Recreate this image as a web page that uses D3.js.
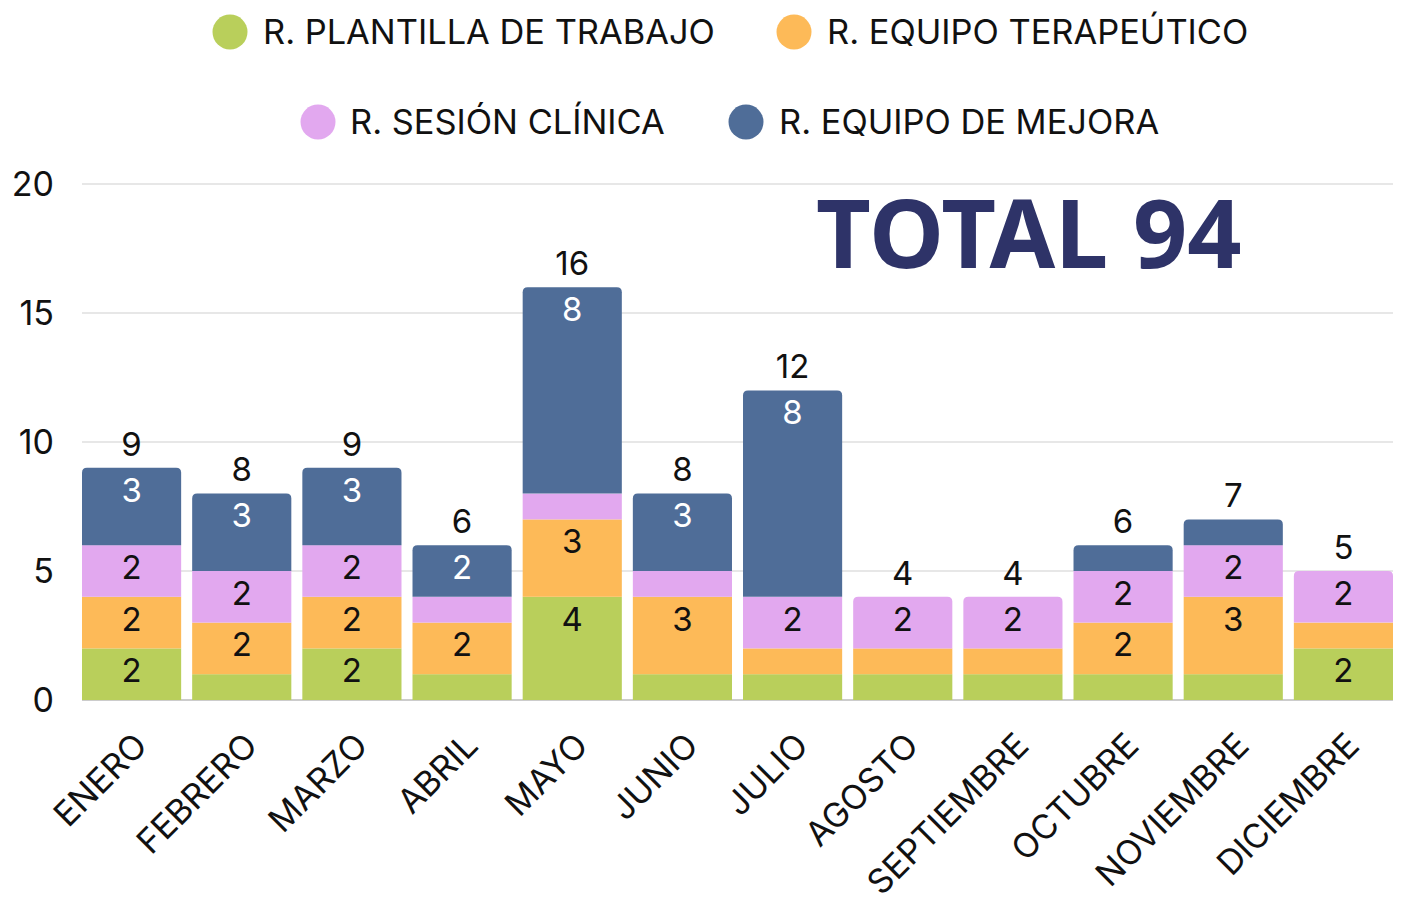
<!DOCTYPE html>
<html>
<head>
<meta charset="utf-8">
<script src="https://cdn.jsdelivr.net/npm/d3@7"></script>
<style>
  html, body { margin: 0; padding: 0; background: #fff; }
  svg { display: block; font-family: Inter, "Noto Sans", sans-serif; }
</style>
</head>
<body>
<svg id="chart" width="1407" height="911"></svg>
<script>
const months = ["ENERO","FEBRERO","MARZO","ABRIL","MAYO","JUNIO","JULIO","AGOSTO","SEPTIEMBRE","OCTUBRE","NOVIEMBRE","DICIEMBRE"];
const seriesNames = ["R. PLANTILLA DE TRABAJO","R. EQUIPO TERAPEÚTICO","R. SESIÓN CLÍNICA","R. EQUIPO DE MEJORA"];
const plantilla = [2,1,2,1,4,1,1,1,1,1,1,2];
const terapeutico = [2,2,2,2,3,3,1,1,1,2,3,1];
const sesion = [2,2,2,1,1,1,2,2,2,2,2,2];
const mejora = [3,3,3,2,8,3,8,0,0,1,1,0];
const yTicks = [0,5,10,15,20];
const totalLabel = "TOTAL 94";
const colors = ["#b9cf5b","#fdba58","#e2a8ef","#4f6d98"];

const svg = d3.select("#chart");
const x = d3.scaleBand().domain(months).range([82, 1393]).paddingInner(0.1).paddingOuter(0);
const y = d3.scaleLinear().domain([0, 20]).range([700, 184]);

// grid
svg.append("g").selectAll("line").data(yTicks).join("line")
  .attr("x1", 82).attr("x2", 1393)
  .attr("y1", d => y(d)).attr("y2", d => y(d))
  .attr("stroke", d => d === 0 ? "#999" : "#cfcfcf").attr("stroke-width", 1);

// y axis labels
svg.append("g").selectAll("text").data(yTicks).join("text")
  .attr("x", 54).attr("y", d => y(d)).attr("dy", "0.36em")
  .attr("text-anchor", "end").attr("font-size", 34).attr("fill", "#111")
  .text(d => d);

const table = months.map((m, i) => ({ month: m, s0: plantilla[i], s1: terapeutico[i], s2: sesion[i], s3: mejora[i] }));
const stack = d3.stack().keys(["s0","s1","s2","s3"]);
const stacked = stack(table);

const bw = x.bandwidth();
const r = 5;
function topIndex(i) {
  let t = -1;
  for (let k = 0; k < 4; k++) if (stacked[k][i][1] - stacked[k][i][0] > 0) t = k;
  return t;
}

stacked.forEach((layer, k) => {
  const g = svg.append("g");
  layer.forEach((d, i) => {
    const v = d[1] - d[0];
    if (v <= 0) return;
    const x0 = x(months[i]), x1 = x0 + bw;
    const yt = y(d[1]), yb = y(d[0]);
    if (topIndex(i) === k) {
      const p = d3.path();
      p.moveTo(x0, yb);
      p.lineTo(x0, yt + r);
      p.quadraticCurveTo(x0, yt, x0 + r, yt);
      p.lineTo(x1 - r, yt);
      p.quadraticCurveTo(x1, yt, x1, yt + r);
      p.lineTo(x1, yb);
      p.closePath();
      g.append("path").attr("d", p.toString()).attr("fill", colors[k]);
    } else {
      g.append("rect").attr("x", x0).attr("y", yt).attr("width", bw).attr("height", yb - yt).attr("fill", colors[k]);
    }
  });
});

// inner labels
stacked.forEach((layer, k) => {
  svg.append("g").selectAll("text").data(layer.map((d, i) => ({ d, i })).filter(o => o.d[1] - o.d[0] >= 2)).join("text")
    .attr("x", o => x(months[o.i]) + bw / 2)
    .attr("y", o => y(o.d[1]) + 22).attr("dy", "0.36em")
    .attr("text-anchor", "middle").attr("font-size", 33)
    .attr("fill", k === 3 ? "#fff" : "#111")
    .text(o => o.d[1] - o.d[0]);
});

// totals
const totals = months.map((m, i) => plantilla[i] + terapeutico[i] + sesion[i] + mejora[i]);
svg.append("g").selectAll("text").data(totals).join("text")
  .attr("x", (d, i) => x(months[i]) + bw / 2)
  .attr("y", d => y(d) - 24).attr("dy", "0.36em")
  .attr("text-anchor", "middle").attr("font-size", 33).attr("fill", "#111")
  .text(d => d);

// x labels
svg.append("g").selectAll("text").data(months).join("text")
  .attr("transform", d => `translate(${x(d) + bw / 2 + 9},${739}) rotate(-45)`)
  .attr("text-anchor", "end").attr("dy", "0.36em")
  .attr("font-size", 34).attr("fill", "#111")
  .text(d => d);

// legend
const legendPos = [
  { cx: 230, cy: 32, tx: 263 },
  { cx: 794, cy: 32, tx: 827 },
  { cx: 318, cy: 122, tx: 350 },
  { cx: 746, cy: 122, tx: 779 }
];
const lg = svg.append("g");
seriesNames.forEach((name, k) => {
  const p = legendPos[k];
  lg.append("circle").attr("cx", p.cx).attr("cy", p.cy).attr("r", 17.5).attr("fill", colors[k]);
  lg.append("text").attr("x", p.tx).attr("y", p.cy).attr("dy", "0.36em")
    .attr("font-size", 34.4).attr("fill", "#111").text(name);
});

// total annotation
svg.append("text").attr("x", 816).attr("y", 268)
  .attr("font-family", "'Noto Sans', sans-serif").attr("font-weight", 700)
  .attr("font-size", 95).attr("fill", "#2e3368").text(totalLabel);
</script>
</body>
</html>
